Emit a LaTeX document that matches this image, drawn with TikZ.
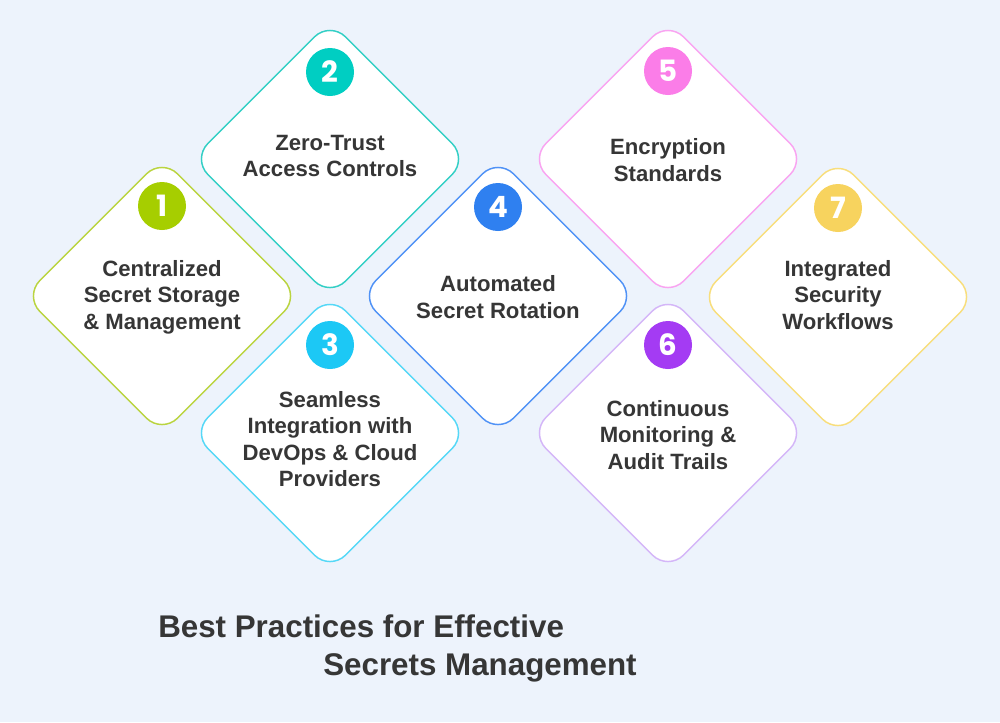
\documentclass[tikz,border=0pt]{standalone}
\usepackage{fontspec}
\setmainfont{Liberation Sans}
\newfontfamily\numfont{Poppins}
\definecolor{bg}{HTML}{EDF3FC}
\definecolor{ink}{HTML}{363636}
\definecolor{limeA}{HTML}{A6CE00}\definecolor{limeB}{HTML}{BAD440}
\definecolor{tealA}{HTML}{00CEC2}\definecolor{tealB}{HTML}{33CFC5}
\definecolor{cyanA}{HTML}{1CC8F5}\definecolor{cyanB}{HTML}{55D8F7}
\definecolor{blueA}{HTML}{2F80F0}\definecolor{blueB}{HTML}{5092F6}
\definecolor{pinkA}{HTML}{FB7DE8}\definecolor{pinkB}{HTML}{F9A4F1}
\definecolor{purpA}{HTML}{A43BF3}\definecolor{purpB}{HTML}{D4B6F8}
\definecolor{yellA}{HTML}{F7D35E}\definecolor{yellB}{HTML}{F8DE7C}

\begin{document}
\begin{tikzpicture}[x=0.75pt,y=-0.75pt,
  card/.style={draw=#1, line width=1.1pt, fill=white, rounded corners=16.5pt,
    minimum size=146pt, inner sep=0pt, rotate=45},
  badge/.style={circle, fill=#1, minimum size=36pt, inner sep=0pt, text=white,
    font=\numfont\bfseries\fontsize{22}{22}\selectfont},
  cardtext/.style={align=center, text=ink, font=\bfseries\fontsize{16.6}{19.8}\selectfont},
  heading/.style={text=ink, inner sep=0pt, font=\bfseries\fontsize{23.5}{28}\selectfont}]
\fill[bg] (0,0) rectangle (1000,722);
\useasboundingbox (0,0) rectangle (1000,722);
% cards
\node[card=limeB] (d1) at (162,296) {};
\node[card=tealB] (d2) at (330,159) {};
\node[card=cyanB] (d3) at (330,433) {};
\node[card=blueB] (d4) at (498,296) {};
\node[card=pinkB] (d5) at (668,159) {};
\node[card=purpB] (d6) at (668,433) {};
\node[card=yellB] (d7) at (838,297) {};
% numbers
\node[badge=limeA] (n1) at (162,206) {1};
\node[badge=tealA] (n2) at (330,72) {2};
\node[badge=cyanA] (n3) at (330,345) {3};
\node[badge=blueA] (n4) at (498,207) {4};
\node[badge=pinkA] (n5) at (668,71) {5};
\node[badge=purpA] (n6) at (668,345) {6};
\node[badge=yellA] (n7) at (838,208) {7};
% texts
\node[cardtext] (t1) at (162,297) {Centralized\\Secret Storage\\\& Management};
\node[cardtext] (t2) at (330,156) {Zero-Trust\\Access Controls};
\node[cardtext] (t3) at (330,439) {Seamless\\Integration with\\DevOps \& Cloud\\Providers};
\node[cardtext] (t4) at (498,297) {Automated\\Secret Rotation};
\node[cardtext] (t5) at (668,160) {Encryption\\Standards};
\node[cardtext] (t6) at (668,435) {Continuous\\Monitoring \&\\Audit Trails};
\node[cardtext] (t7) at (838,295) {Integrated\\Security\\Workflows};
% title
\node[heading, anchor=base west] (title1) at (158,637) {Best Practices for Effective};
\node[heading, anchor=base east] (title2) at (637,675) {Secrets Management};
\end{tikzpicture}
\end{document}
